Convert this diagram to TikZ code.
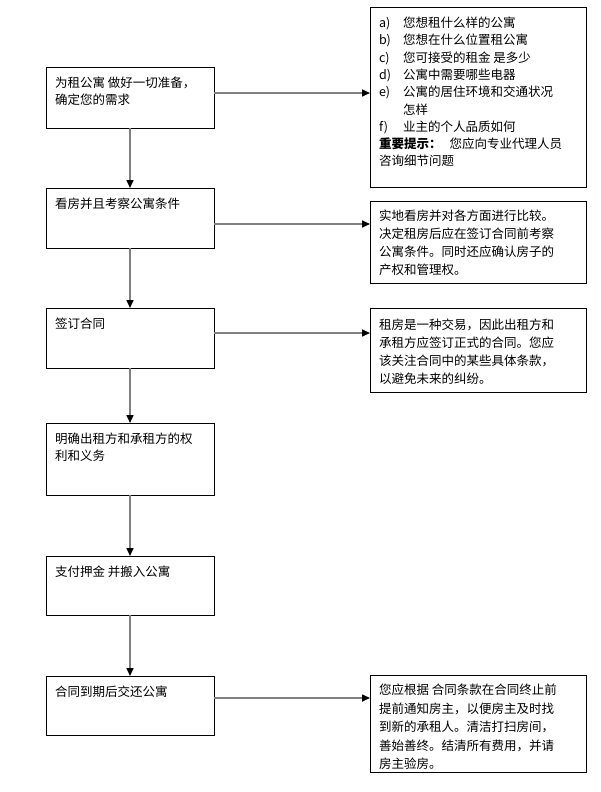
\documentclass[tikz,border=0pt]{standalone}
\usepackage{fontspec}
\setmainfont{Noto Sans CJK SC}
\usetikzlibrary{arrows.meta,calc}
\definecolor{conngray}{RGB}{128,128,128}
\newcommand\boxtxt[5]{% width, height, first baseline, baselineskip, text
  \begin{minipage}[t][#2pt][t]{#1pt}\fontsize{12.5}{#4}\selectfont\raggedright\rule{0pt}{#3pt}#5\end{minipage}}
\newcommand\itm[1]{\makebox[24pt][l]{#1}}
\tikzset{
  box/.style={draw=black, line width=0.8pt, anchor=north west, inner xsep=9pt, inner ysep=0pt, outer sep=0pt},
  conn/.style={draw=conngray, line width=1.6pt, -{Triangle[length=8pt,width=7pt,color=black]}, shorten >=0pt}
}
\begin{document}
\begin{tikzpicture}[x=1pt,y=-1pt]
\useasboundingbox (0,0) rectangle (600,792);
\fill[white] (0,0) rectangle (600,792);
% left column
\node[box] (L1) at (46,67)  {\boxtxt{150}{61}{20.5}{17}{为租公寓 做好一切准备，\\确定您的需求}};
\node[box] (L2) at (46,188) {\boxtxt{150}{60}{20.5}{17}{看房并且考察公寓条件}};
\node[box] (L3) at (46,308) {\boxtxt{150}{60}{20.5}{17}{签订合同}};
\node[box] (L4) at (46,423) {\boxtxt{150}{72}{20.5}{17}{明确出租方和承租方的权\\利和义务}};
\node[box] (L5) at (46,556) {\boxtxt{150}{59}{20.5}{17}{支付押金 并搬入公寓}};
\node[box] (L6) at (46,676) {\boxtxt{150}{59}{20.5}{17}{合同到期后交还公寓}};
% right column
\node[box] (R1) at (370,7) {\boxtxt{198}{180}{20.5}{17.3}{%
\itm{a)}您想租什么样的公寓\\
\itm{b)}您想在什么位置租公寓\\
\itm{c)}您可接受的租金 是多少\\
\itm{d)}公寓中需要哪些电器\\
\itm{e)}公寓的居住环境和交通状况\\
\itm{}怎样\\
\itm{f)}业主的个人品质如何\\
\textbf{重要提示：}\hspace{8pt}您应向专业代理人员\\
咨询细节问题}};
\node[box] (R2) at (370,201) {\boxtxt{198}{82}{19}{18}{实地看房并对各方面进行比较。\\决定租房后应在签订合同前考察\\公寓条件。同时还应确认房子的\\产权和管理权。}};
\node[box] (R3) at (370,308) {\boxtxt{198}{84}{21.5}{18}{租房是一种交易，因此出租方和\\承租方应签订正式的合同。您应\\该关注合同中的某些具体条款，\\以避免未来的纠纷。}};
\node[box] (R4) at (370,675) {\boxtxt{198}{97}{19.5}{18.5}{您应根据 合同条款在合同终止前\\提前通知房主，以便房主及时找\\到新的承租人。清洁打扫房间，\\善始善终。结清所有费用，并请\\房主验房。}};
% vertical connectors
\draw[conn] (L1.south) -- (L2.north);
\draw[conn] (L2.south) -- (L3.north);
\draw[conn] (L3.south) -- (L4.north);
\draw[conn] (L4.south) -- (L5.north);
\draw[conn] (L5.south) -- (L6.north);
% horizontal connectors
\path ([yshift=-26pt]L1.north east) coordinate (a1);
\path ([yshift=-36pt]L2.north east) coordinate (a2);
\path ([yshift=-25pt]L3.north east) coordinate (a3);
\path ([yshift=-22pt]L6.north east) coordinate (a6);
\draw[conn] (a1) -- (a1 -| R1.west);
\draw[conn] (a2) -- (a2 -| R2.west);
\draw[conn] (a3) -- (a3 -| R3.west);
\draw[conn] (a6) -- (a6 -| R4.west);
\end{tikzpicture}
\end{document}
